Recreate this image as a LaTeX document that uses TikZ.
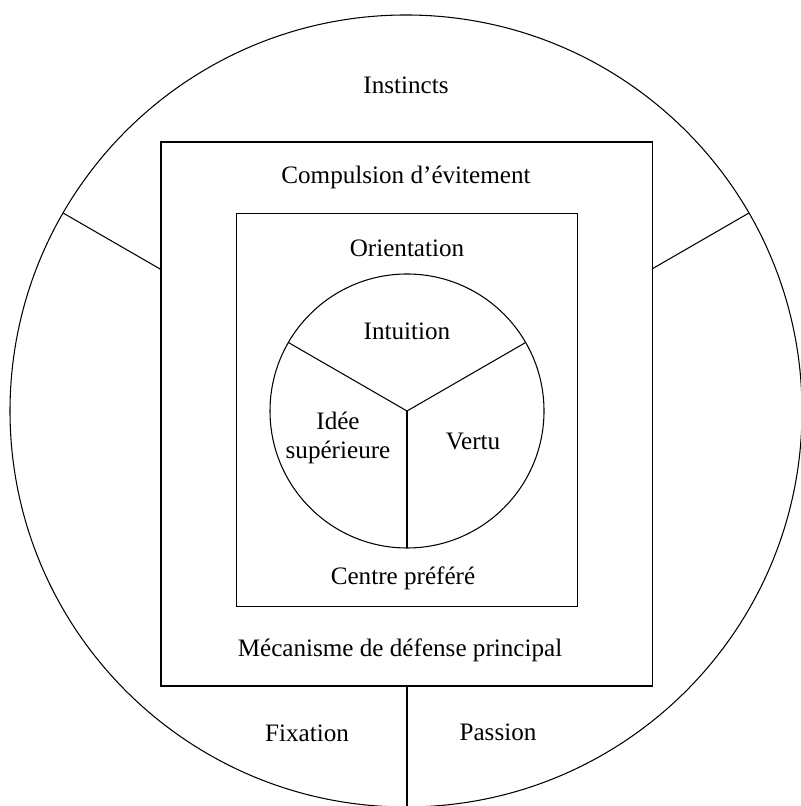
\documentclass[tikz,border=0pt]{standalone}
\usepackage{fontspec}
\setmainfont{Liberation Serif}
\begin{document}
\begin{tikzpicture}[
    line width=0.6pt,
    lbl/.style={font=\fontsize{14.3}{17}\selectfont, align=center, inner sep=1pt},
    ring/.style={draw, circle, inner sep=0pt, outer sep=0pt}
  ]
    \useasboundingbox (0, 0) rectangle (16, 16.12);

    \node[ring, minimum size=15.84cm] (soul) at (8.12, 7.90) {};
    \node[ring, minimum size=5.48cm] (core) at (8.14, 7.90) {};

    \coordinate (outerNW) at (3.22, 13.28);
    \coordinate (outerSE) at (13.05, 2.40);
    \coordinate (outerSW) at (outerNW |- outerSE);
    \coordinate (outerNE) at (outerSE |- outerNW);
    \coordinate (innerNW) at (4.73, 11.85);
    \coordinate (innerSE) at (11.55, 3.99);

    \draw (outerNW) rectangle (outerSE);
    \draw (innerNW) rectangle (innerSE);

    % spokes between the big circle and the outer box
    \draw (soul.150) -- (intersection of soul.center--soul.150 and outerNW--outerSW);
    \draw (soul.30) -- (intersection of soul.center--soul.30 and outerNE--outerSE);
    \coordinate (bottomspoke) at (core.center |- outerSE);
    \draw (bottomspoke) -- (bottomspoke |- soul.south);

    % spokes of the small circle
    \draw (core.center) -- (core.150);
    \draw (core.center) -- (core.30);
    \draw (core.center) -- (core.south);

    \node[lbl] (instincts) at (8.12, 14.42) {Instincts};
    \node[lbl] (compulsion) at (8.12, 12.58) {Compulsion d’évitement};
    \node[lbl] (orientation) at (8.14, 11.16) {Orientation};
    \node[lbl] (intuition) at (8.14, 9.50) {Intuition};
    \node[lbl] (idee) at (6.76, 7.36) {Idée\\supérieure};
    \node[lbl] (vertu) at (9.46, 7.30) {Vertu};
    \node[lbl] (centre) at (8.06, 4.56) {Centre préféré};
    \node[lbl] (mecanisme) at (8.00, 3.12) {Mécanisme de défense principal};
    \node[lbl] (fixation) at (6.14, 1.46) {Fixation};
    \node[lbl] (passion) at (9.96, 1.48) {Passion};
\end{tikzpicture}
\end{document}
